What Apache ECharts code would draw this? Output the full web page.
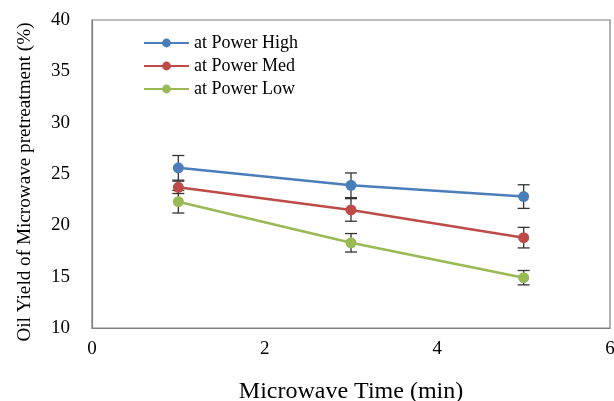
<!DOCTYPE html>
<html><head><meta charset="utf-8">
<script src="https://cdn.jsdelivr.net/npm/echarts@6/dist/echarts.min.js"></script>
<style>html,body{margin:0;padding:0;background:#fff}#c{width:614px;height:401px}</style>
</head><body><div id="c"></div>
<script>
var times = [1, 3, 5];
var seriesNames = ['at Power High', 'at Power Med', 'at Power Low'];
var highVals = [25.6, 23.9, 22.8];
var medVals = [23.7, 21.5, 18.8];
var lowVals = [22.3, 18.3, 14.9];
var highErr = [1.2, 1.2, 1.15];
var medErr = [0.6, 1.1, 1.0];
var lowErr = [1.1, 0.9, 0.7];
var colors = ['#4a7ebb', '#be4b48', '#98b954'];
var yTicks = [10, 15, 20, 25, 30, 35, 40];
var xTicks = [0, 2, 4, 6];

var allVals = [highVals, medVals, lowVals];
var allErr = [highErr, medErr, lowErr];
var font = 'Liberation Serif, Times New Roman, serif';

var chart = echarts.init(document.getElementById('c'));
var series = [];
allVals.forEach(function (vals, si) {
  var errData = times.map(function (t, i) { return [t, vals[i] - allErr[si][i], vals[i] + allErr[si][i]]; });
  series.push({
    type: 'custom', name: seriesNames[si] + ' err', z: 1, silent: true,
    data: errData,
    renderItem: function (params, api) {
      var x = api.value(0);
      var lo = api.coord([x, api.value(1)]);
      var hi = api.coord([x, api.value(2)]);
      var w = 6;
      var st = { stroke: '#333', lineWidth: 1.3 };
      return { type: 'group', children: [
        { type: 'line', shape: { x1: lo[0], y1: lo[1], x2: hi[0], y2: hi[1] }, style: st },
        { type: 'line', shape: { x1: lo[0] - w, y1: lo[1], x2: lo[0] + w, y2: lo[1] }, style: st },
        { type: 'line', shape: { x1: hi[0] - w, y1: hi[1], x2: hi[0] + w, y2: hi[1] }, style: st }
      ]};
    }
  });
});
allVals.forEach(function (vals, si) {
  series.push({
    type: 'line', name: seriesNames[si], z: 3,
    data: times.map(function (t, i) { return [t, vals[i]]; }),
    symbol: 'circle', symbolSize: 11,
    lineStyle: { color: colors[si], width: 2.5 },
    itemStyle: { color: colors[si] }
  });
});

chart.setOption({
  animation: false,
  color: colors,
  legend: {
    data: seriesNames, orient: 'vertical', left: 138, top: 29, itemGap: 5,
    itemWidth: 45, itemHeight: 11,
    textStyle: { fontFamily: font, fontSize: 18, color: '#000' }
  },
  grid: { left: 92, right: 4, top: 20, bottom: 73, show: true, borderColor: '#7f7f7f', borderWidth: 1.2, outerBoundsMode: 'none', containLabel: false },
  xAxis: {
    type: 'value', min: xTicks[0], max: xTicks[xTicks.length - 1], interval: 2,
    name: 'Microwave Time (min)', nameLocation: 'middle', nameGap: 52,
    nameTextStyle: { fontFamily: font, fontSize: 24, color: '#000' },
    axisLine: { show: true, lineStyle: { color: '#7f7f7f', width: 1.2 } },
    axisTick: { show: false }, splitLine: { show: false },
    axisLabel: { fontFamily: font, fontSize: 19, color: '#000', margin: 12 }
  },
  yAxis: {
    type: 'value', min: yTicks[0], max: yTicks[yTicks.length - 1], interval: 5,
    name: 'Oil Yield of Microwave pretreatment (%)', nameLocation: 'middle', nameGap: 58,
    nameTextStyle: { fontFamily: font, fontSize: 19.2, color: '#000', padding: [0, 16, 0, 0] },
    axisLine: { show: true, lineStyle: { color: '#7f7f7f', width: 1.2 } },
    axisTick: { show: false }, splitLine: { show: false },
    axisLabel: { fontFamily: font, fontSize: 19, color: '#000', margin: 22 }
  },
  series: series
});
</script></body></html>
